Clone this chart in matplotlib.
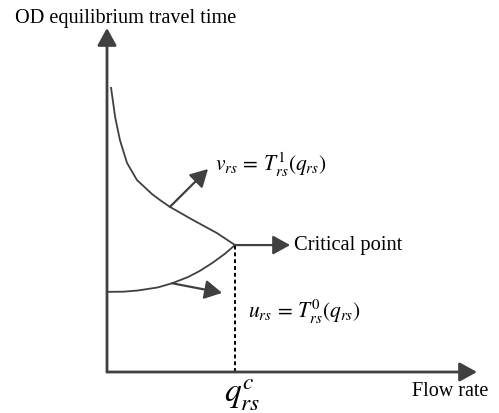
#
# Sketch of OD equilibrium travel time against flow rate, with the
# two branches meeting at the critical point.
#

import matplotlib.pyplot as plt
from matplotlib.patches import ArrowStyle

plt.rcParams['font.family'] = ['Liberation Serif', 'DejaVu Serif']
plt.rcParams['mathtext.fontset'] = 'stix'

# upper branch v_rs = T1(q) (flow, time)
upper_q = [0.11, 0.22, 0.35, 0.54, 0.81, 1.22, 1.43, 1.70, 2.32, 2.97, 3.46]
upper_t = [8.26, 7.41, 6.74, 6.08, 5.58, 5.17, 5.00, 4.80, 4.42, 4.04, 3.69]

# lower branch u_rs = T0(q)
lower_q = [0.03, 0.45, 0.84, 1.38, 1.76, 2.19, 2.51, 2.86, 3.19, 3.46]
lower_t = [2.33, 2.335, 2.37, 2.46, 2.58, 2.76, 2.94, 3.18, 3.44, 3.69]

critical = (3.46, 3.69)
upper_label_at = (1.70, 4.80)
lower_label_at = (1.76, 2.58)

line_color = '#404040'


def arrow(ax, start, end, width=1.6):
    style = ArrowStyle('-|>', head_length=10.5, head_width=5.8)
    ax.annotate('', xy=end, xytext=start,
        arrowprops=dict(arrowstyle=style, mutation_scale=1,
                        color=line_color, lw=width,
                        shrinkA=0, shrinkB=0),
        annotation_clip=False)


def main():
    fig = plt.figure(figsize=(4.99, 4.13), dpi=100)
    ax = fig.add_axes([107 / 499, 41 / 413, 370 / 499, 344 / 413])
    ax.set_xlim(0, 10)
    ax.set_ylim(0, 10)
    ax.axis('off')

    # axes with arrow heads
    arrow(ax, (0, 0), (10, 0), width=2)
    arrow(ax, (0, 0), (0, 10), width=2)

    ax.plot(upper_q, upper_t, color=line_color, lw=1.3)
    ax.plot(lower_q, lower_t, color=line_color, lw=1.3)

    ax.plot([critical[0], critical[0]], [0, critical[1]],
            color='black', lw=1.4, linestyle=(0, (2, 1.5)))

    arrow(ax, critical, (critical[0] + 1.49, critical[1]))
    arrow(ax, upper_label_at, (upper_label_at[0] + 1.03, upper_label_at[1] + 1.10))
    arrow(ax, lower_label_at, (lower_label_at[0] + 1.35, lower_label_at[1] - 0.28))

    ax.text(critical[0] + 1.60, critical[1], 'Critical point',
            fontsize=14.8, va='center', ha='left')
    ax.text(2.92, 6.03, r'$v_{rs}\,=\,T_{rs}^{1}(q_{rs})$',
            fontsize=15.5, va='center', ha='left')
    ax.text(3.80, 1.75, r'$u_{rs}\,=\,T_{rs}^{0}(q_{rs})$',
            fontsize=15.5, va='center', ha='left')

    ax.text(critical[0] + 0.2, -0.68, r'$q_{rs}^{c}$',
            fontsize=24, va='center', ha='center')
    ax.text(10.3, -0.58, 'Flow rate', fontsize=14.5, va='center', ha='right')
    fig.text(15 / 499, 1 - 18 / 413, 'OD equilibrium travel time',
             fontsize=14.6, va='center', ha='left')

    fig.savefig('out.png', dpi=100, facecolor='white')


if __name__ == '__main__':
    main()
